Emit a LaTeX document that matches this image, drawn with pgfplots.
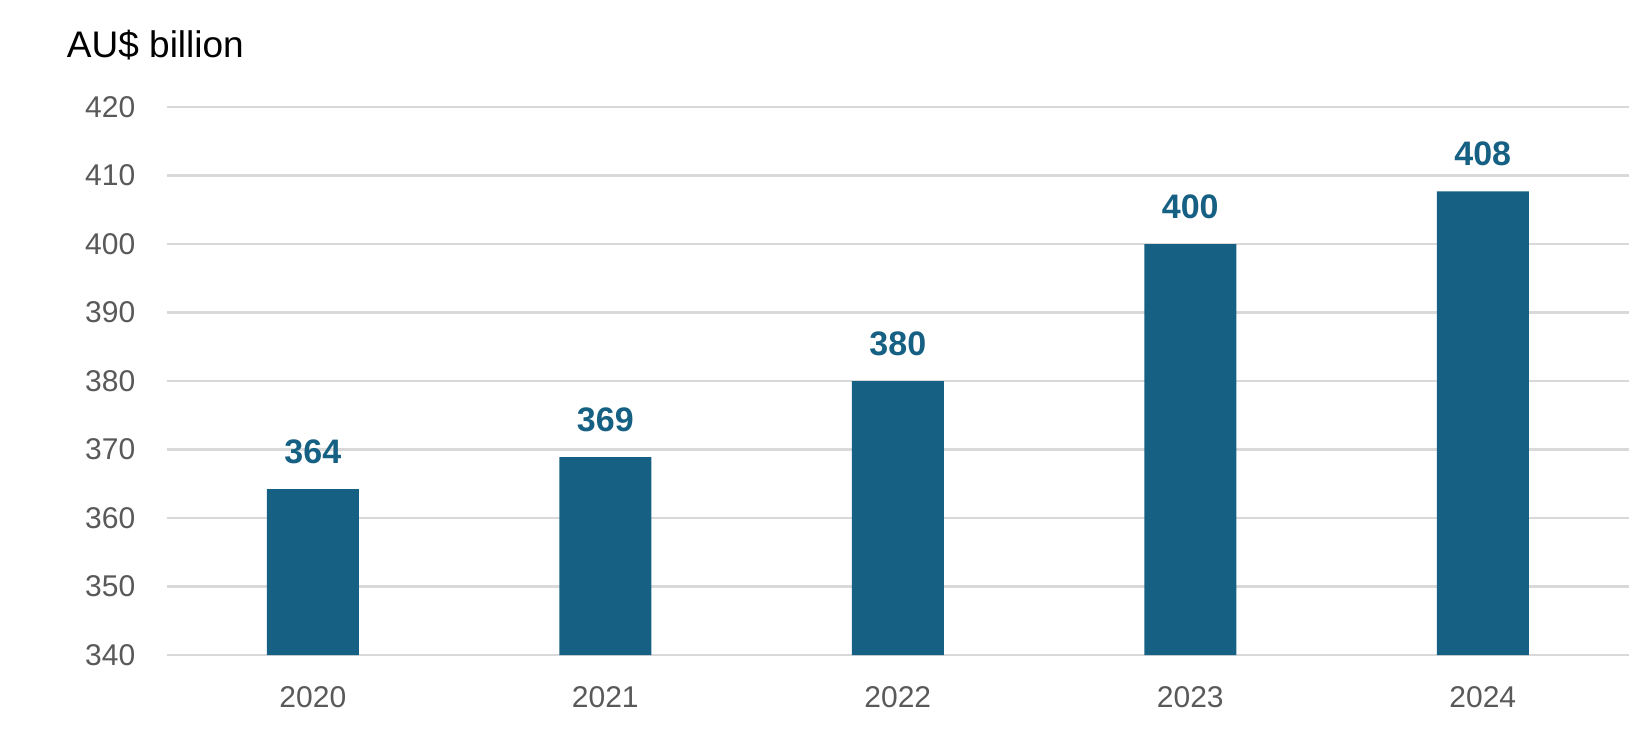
\documentclass[border=0pt]{standalone}
\usepackage{pgfplots}
\pgfplotsset{compat=1.18}
\usepackage{fontspec}
\setmainfont{Liberation Sans}
\definecolor{barblue}{HTML}{166083}
\definecolor{ticktext}{HTML}{595959}
\definecolor{gridgray}{HTML}{D9D9D9}
\begin{document}
\begin{tikzpicture}
\begin{axis}[
  at={(0,0)}, anchor=south west,
  scale only axis,
  width=731.2bp, height=274bp,
  xmin=-0.5, xmax=4.5,
  ymin=340, ymax=420,
  ytick={340,350,...,420},
  xtick={0,1,2,3,4},
  xticklabels={2020,2021,2022,2023,2024},
  axis line style={draw=none},
  major tick length=0pt,
  ymajorgrids,
  grid style={gridgray, line width=1.3bp},
  /pgf/number format/assume math mode=true,
  yticklabel style={font=\fontsize{15bp}{17bp}\selectfont, text=ticktext, anchor=east, inner sep=0pt, xshift=-15.5bp},
  xticklabel style={font=\fontsize{15bp}{17bp}\selectfont, text=ticktext, anchor=base, inner sep=0pt, yshift=-26.2bp},
  ybar, bar width=46bp, bar shift=0pt,
  nodes near coords,
  point meta=explicit symbolic,
  nodes near coords style={font=\fontsize{17bp}{19bp}\selectfont\bfseries, text=barblue, anchor=south, inner sep=0pt, yshift=12.5bp},
  clip=false,
]
\addplot[fill=barblue, draw=none] coordinates {
  (0,364.2) [364]
  (1,368.9) [369]
  (2,380.0) [380]
  (3,400.0) [400]
  (4,407.7) [408]
};
\node[anchor=base west, inner sep=0pt, font=\fontsize{18.5bp}{21bp}\selectfont] at ([xshift=-50bp,yshift=25bp]rel axis cs:0,1) {AU\$ billion};
\end{axis}
\path[use as bounding box] (-83.3bp,-45bp) rectangle (740.2bp,327.5bp);
\end{tikzpicture}
\end{document}
